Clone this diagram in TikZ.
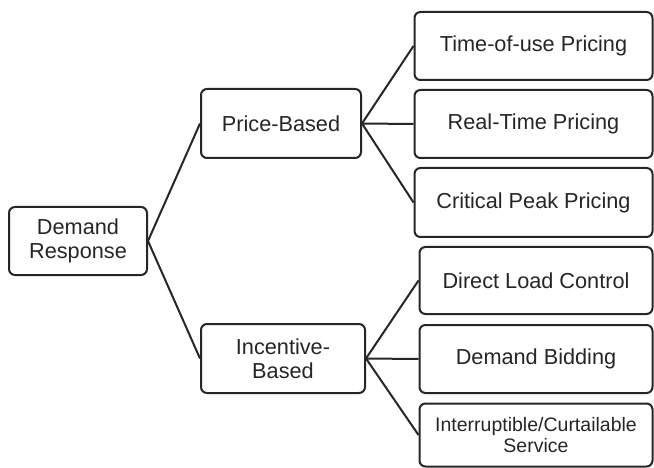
\documentclass[tikz,border=0pt]{standalone}
\usepackage{fontspec}
\setmainfont{Liberation Sans}
\begin{document}
\begin{tikzpicture}[x=1pt,y=-1pt,
  box/.style={draw=black!85, line width=2pt, rounded corners=6pt, fill=white, align=center,
    inner sep=0pt, text=black!85, font=\fontsize{21.7}{24}\selectfont},
  small/.style={font=\fontsize{19.5}{21}\selectfont},
  link/.style={draw=black!85, line width=2pt}]
\useasboundingbox (0,0) rectangle (654,468);
\node[box, minimum width=138pt, minimum height=68pt] (dr) at (78,241) {Demand\\Response};
\node[box, minimum width=160pt, minimum height=69pt] (pb) at (281,123.5) {Price-Based};
\node[box, minimum width=164pt, minimum height=69pt] (ib) at (283,358.5) {Incentive-\\Based};
\node[box, minimum width=238pt, minimum height=68pt] (t1) at (533.5,46) {Time-of-use Pricing};
\node[box, minimum width=238pt, minimum height=68pt] (t2) at (533.5,124) {Real-Time Pricing};
\node[box, minimum width=238pt, minimum height=69pt] (t3) at (533.5,202.5) {Critical Peak Pricing};
\node[box, minimum width=233pt, minimum height=67pt] (i1) at (536,280.5) {Direct Load Control};
\node[box, minimum width=233pt, minimum height=68pt] (i2) at (536,359) {Demand Bidding};
\node[box, small, minimum width=233pt, minimum height=63pt] (i3) at (536,435) {Interruptible/Curtailable\\Service};
\draw[link] (dr.east) -- (pb.west);
\draw[link] (dr.east) -- (ib.west);
\draw[link] (pb.east) -- (t1.west);
\draw[link] (pb.east) -- (t2.west);
\draw[link] (pb.east) -- (t3.west);
\draw[link] (ib.east) -- (i1.west);
\draw[link] (ib.east) -- (i2.west);
\draw[link] (ib.east) -- (i3.west);
\end{tikzpicture}
\end{document}
